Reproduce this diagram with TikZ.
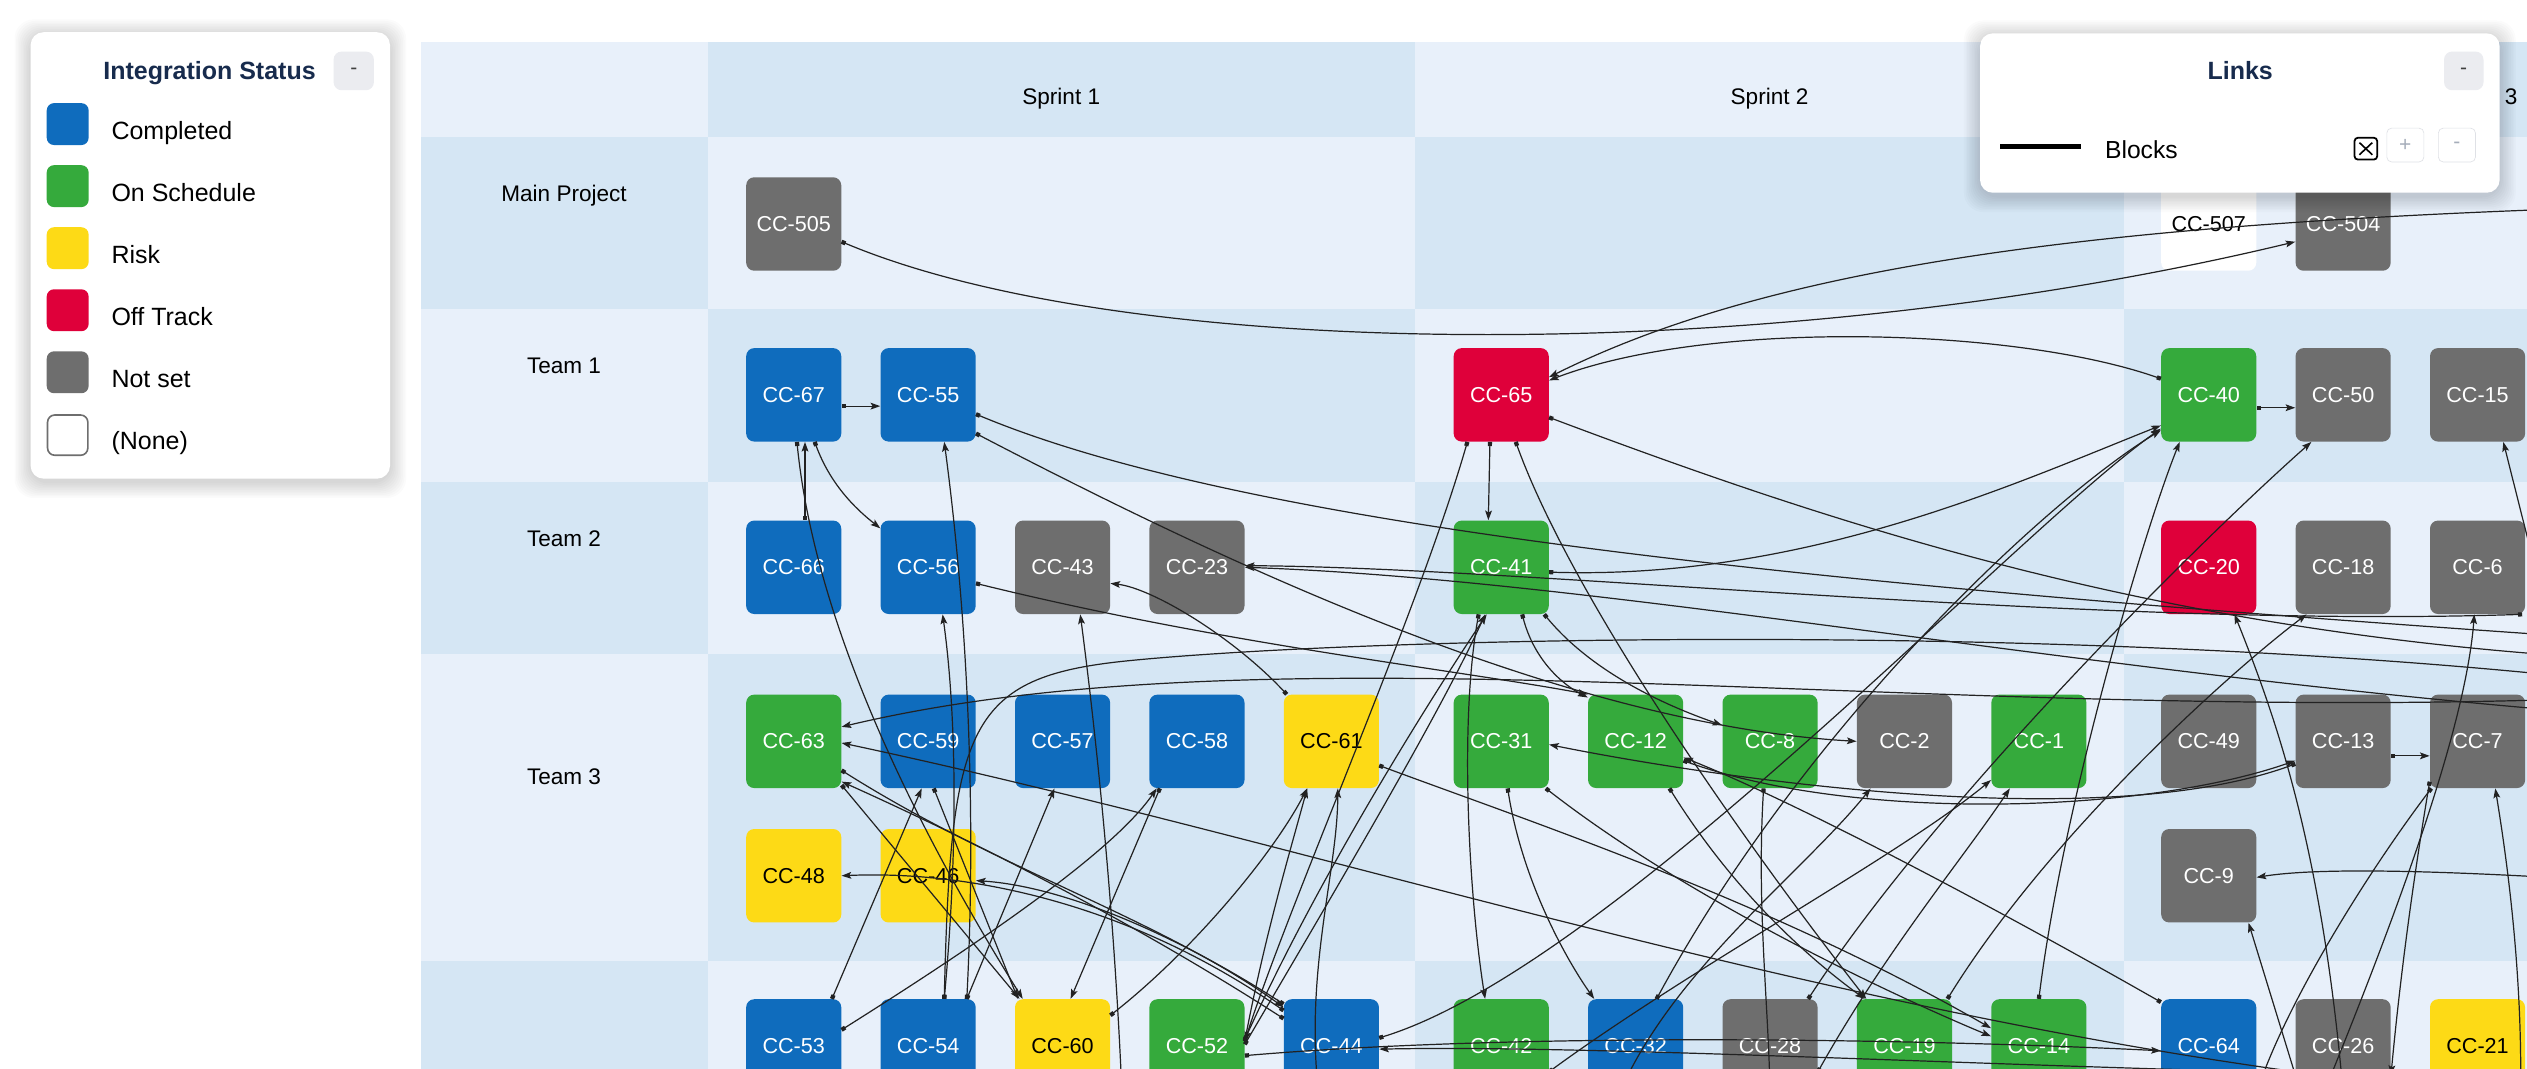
\documentclass[tikz,border=0pt]{standalone}
\usepackage{fontspec}
\setmainfont{Liberation Sans}
\usetikzlibrary{arrows.meta,positioning}

\definecolor{cellA}{HTML}{E8F0FA}
\definecolor{cellB}{HTML}{D5E6F4}
\definecolor{doneblue}{HTML}{0F6CBD}
\definecolor{ongreen}{HTML}{35AA3C}
\definecolor{riskyellow}{HTML}{FDDA16}
\definecolor{offred}{HTML}{DF003A}
\definecolor{notgrey}{HTML}{6E6E6E}
\definecolor{navy}{HTML}{172B4D}
\definecolor{btngrey}{HTML}{EBECF0}
\definecolor{btnline}{HTML}{DFE1E6}
\definecolor{btntext}{HTML}{A5ADBA}
\definecolor{linkgrey}{HTML}{222222}

\begin{document}
\begin{tikzpicture}[
  x=1pt, y=-1pt,
  node distance=25pt and 24pt,
  issue/.style={rectangle, rounded corners=5pt, minimum width=59pt, minimum height=58pt, inner sep=0pt, text=white, font=\fontsize{13.4}{16}\selectfont},
  done/.style={issue, fill=doneblue},
  ontrack/.style={issue, fill=ongreen},
  risk/.style={issue, fill=riskyellow, text=black},
  offtrack/.style={issue, fill=offred},
  notset/.style={issue, fill=notgrey},
  nostatus/.style={issue, fill=white, text=black},
  gridlabel/.style={anchor=base, font=\fontsize{14}{16}\selectfont},
  legtext/.style={anchor=base west, inner sep=0pt, font=\fontsize{15.5}{18}\selectfont},
  paneltitle/.style={anchor=base, inner sep=0pt, text=navy, font=\fontsize{15.5}{18}\selectfont\bfseries},
  panel/.style={fill=white, rounded corners=8pt},
  haze/.style={fill=black, opacity=0.014, rounded corners=12pt},
  link/.style={draw=linkgrey, line width=0.75pt, {Square[length=2.6pt,width=2.6pt]}-{Stealth[length=6pt,width=4.2pt,inset=1.2pt]}}
]
\useasboundingbox (0,0) rectangle (1568,663);
\fill[white] (0,0) rectangle (1568,663);
\clip (0,0) rectangle (1568,663);

\foreach \ya/\yb [count=\i] in {26/85,85/192,192/299,299/406,406/596,596/700}
  \foreach \xa/\xb [count=\j] in {261/439,439/878,878/1318,1318/1760}{
    \pgfmathtruncatemacro\k{\i+\j}
    \ifodd\k \fill[cellB] (\xa,\ya) rectangle (\xb,\yb); \else \fill[cellA] (\xa,\ya) rectangle (\xb,\yb); \fi
  }

\node[gridlabel] (s1) at (658.5,65) {Sprint 1};
\node[gridlabel] (s2) at (1098,65) {Sprint 2};
\node[gridlabel] (s3) at (1538,65) {Sprint 3};
\node[gridlabel] (mainrow) at (350,125) {Main Project};
\node[gridlabel] (team1) at (350,232) {Team 1};
\node[gridlabel] (team2) at (350,339) {Team 2};
\node[gridlabel] (team3) at (350,487) {Team 3};

\node[notset] (c505) at (492.5,139) {CC-505};
\node[nostatus] (c507) at (1370.5,139) {CC-507};
\node[notset, right=of c507] (c504) {CC-504};

\node[done] (c67) at (492.5,245) {CC-67};
\node[done, right=of c67] (c55) {CC-55};
\node[offtrack] (c65) at (931.5,245) {CC-65};
\node[ontrack] (c40) at (1370.5,245) {CC-40};
\node[notset, right=of c40] (c50) {CC-50};
\node[notset, right=of c50] (c15) {CC-15};

\node[done] (c66) at (492.5,352) {CC-66};
\node[done, right=of c66] (c56) {CC-56};
\node[notset, right=of c56] (c43) {CC-43};
\node[notset, right=of c43] (c23) {CC-23};
\node[ontrack] (c41) at (931.5,352) {CC-41};
\node[offtrack] (c20) at (1370.5,352) {CC-20};
\node[notset, right=of c20] (c18) {CC-18};
\node[notset, right=of c18] (c6) {CC-6};

\node[ontrack] (c63) at (492.5,460) {CC-63};
\node[done, right=of c63] (c59) {CC-59};
\node[done, right=of c59] (c57) {CC-57};
\node[done, right=of c57] (c58) {CC-58};
\node[risk, right=of c58] (c61) {CC-61};
\node[ontrack] (c31) at (931.5,460) {CC-31};
\node[ontrack, right=of c31] (c12) {CC-12};
\node[ontrack, right=of c12] (c8) {CC-8};
\node[notset, right=of c8] (c2) {CC-2};
\node[ontrack, right=of c2] (c1) {CC-1};
\node[notset] (c49) at (1370.5,460) {CC-49};
\node[notset, right=of c49] (c13) {CC-13};
\node[notset, right=of c13] (c7) {CC-7};
\node[risk, below=of c63] (c48) {CC-48};
\node[risk, right=of c48] (c46) {CC-46};
\node[notset, below=of c49] (c9) {CC-9};

\node[done] (c53) at (492.5,649) {CC-53};
\node[done, right=of c53] (c54) {CC-54};
\node[risk, right=of c54] (c60) {CC-60};
\node[ontrack, right=of c60] (c52) {CC-52};
\node[done, right=of c52] (c44) {CC-44};
\node[ontrack] (c42) at (931.5,649) {CC-42};
\node[done, right=of c42] (c32) {CC-32};
\node[notset, right=of c32] (c28) {CC-28};
\node[ontrack, right=of c28] (c19) {CC-19};
\node[ontrack, right=of c19] (c14) {CC-14};
\node[done] (c64) at (1370.5,649) {CC-64};
\node[notset, right=of c64] (c26) {CC-26};
\node[risk, right=of c26] (c21) {CC-21};

\coordinate (out1) at (1640,128);
\coordinate (out2) at (1640,410);
\coordinate (out3) at (1640,398);
\coordinate (out4) at (1640,445);
\coordinate (out5) at (1640,432);
\coordinate (out6) at (1640,425);
\coordinate (out7) at (1590,420);
\coordinate (out8) at (1640,548);
\coordinate (below1) at (697,700);

\draw[link] ([yshift=-11pt]c505.east) .. controls (700,225) and (1100,228) .. ([yshift=-11pt]c504.west);
\draw[link] (out1) .. controls (1300,138) and (1100,165) .. ([yshift=11pt]c65.east);
\draw[link] ([yshift=10pt]c40.west) .. controls (1250,203) and (1060,198) .. ([yshift=9pt]c65.east);
\draw[link] ([yshift=-14pt]c65.east) .. controls (1150,330) and (1350,395) .. (out2);
\draw[link] ([xshift=-7pt]c65.south) -- ([xshift=-8pt]c41.north);
\draw[link] ([xshift=-21pt]c65.south) .. controls (880,380) and (800,560) .. ([yshift=3pt]c52.east);
\draw[link] ([xshift=9pt]c65.south) .. controls (975,370) and (1080,520) .. ([xshift=6pt]c19.north west);

\draw[link] ([yshift=-7pt]c67.east) -- ([yshift=-7pt]c55.west);
\draw[link] ([xshift=7pt]c66.north) -- ([xshift=7pt]c67.south);
\draw[link] ([xshift=2pt]c67.south) .. controls (505,380) and (560,500) .. ([xshift=5pt]c60.north west);
\draw[link] ([xshift=13pt]c67.south) .. controls (515,300) and (530,315) .. ([yshift=-5pt]c56.north west);
\draw[link] ([yshift=-12pt]c55.east) .. controls (780,330) and (1150,365) .. (out3);
\draw[link] ([yshift=-24pt]c55.east) .. controls (780,360) and (980,450) .. (c2.west);
\draw[link] ([yshift=-10pt]c56.east) .. controls (760,400) and (900,415) .. (c12.north west);
\draw[link] ([xshift=-2pt]c6.south east) .. controls (1300,390) and (950,352) .. ([yshift=1pt]c23.east);
\draw[link] (out4) .. controls (1300,420) and (1000,360) .. (c23.east);
\draw[link] ([xshift=2pt]c61.north west) .. controls (765,395) and (715,365) .. ([yshift=-10pt]c43.east);
\draw[link] (below1) .. controls (692,560) and (678,440) .. ([xshift=11pt]c43.south);

\draw[link] ([xshift=13pt]c41.south) .. controls (952,410) and (970,425) .. ([yshift=-2pt]c12.north west);
\draw[link] ([xshift=-3pt]c41.south east) .. controls (990,420) and (1040,440) .. ([yshift=10pt]c8.west);
\draw[link] ([yshift=-3pt]c41.east) .. controls (1120,360) and (1250,300) .. ([yshift=-19pt]c40.west);
\draw[link] ([xshift=-14pt]c41.south) .. controls (905,450) and (912,560) .. ([xshift=-10pt]c42.north);
\draw[link] ([yshift=-8pt]c40.east) -- ([yshift=-8pt]c50.west);

\draw[link] (out5) .. controls (1200,452) and (800,385) .. ([yshift=9pt]c63.east);
\draw[link] ([yshift=-16pt]c26.west) .. controls (1100,620) and (800,520) .. ([yshift=-1pt]c63.east);
\draw[link] ([yshift=-18pt]c63.east) .. controls (620,540) and (720,570) .. ([yshift=24pt]c44.west);
\draw[link] ([yshift=17pt]c44.west) .. controls (700,570) and (600,520) .. ([yshift=-25pt]c63.east);
\draw[link] ([yshift=2pt]c63.south east) -- ([xshift=3pt]c60.north west);
\draw[link] ([yshift=22pt]c44.west) .. controls (700,560) and (600,540) .. (c48.east);
\draw[link] ([yshift=26pt]c44.west) .. controls (730,580) and (660,550) .. ([yshift=-3pt]c46.east);
\draw[link] ([xshift=3.5pt]c59.south) -- ([xshift=2pt]c60.north west);
\draw[link] ([xshift=-6pt]c53.north east) -- ([xshift=-4pt]c59.south);
\draw[link] ([xshift=24pt]c54.north) -- ([xshift=-5pt]c57.south);
\draw[link] ([yshift=10pt]c53.east) .. controls (600,590) and (690,530) .. ([xshift=-25pt]c58.south);
\draw[link] ([xshift=-23pt]c58.south) -- ([xshift=5pt]c60.north);
\draw[link] ([xshift=24pt]c54.north) .. controls (606,500) and (600,380) .. ([xshift=10pt]c55.south);
\draw[link] ([xshift=10pt]c54.north) .. controls (590,450) and (600,420) .. (700,410) .. controls (850,395) and (1300,385) .. (out6);
\draw[link] ([xshift=10pt]c54.north) .. controls (595,520) and (593,440) .. ([xshift=9pt]c56.south);
\draw[link] ([yshift=-15pt]c61.east) .. controls (950,510) and (1100,560) .. ([yshift=11pt]c14.west);
\draw[link] ([xshift=-8pt]c44.south) .. controls (810,600) and (830,540) .. ([xshift=4pt]c61.south);
\draw[link] ([yshift=19pt]c60.east) .. controls (740,590) and (790,530) .. ([xshift=-15pt]c61.south);
\draw[link] ([yshift=3pt]c52.east) .. controls (785,580) and (800,530) .. ([xshift=-15pt]c61.south);
\draw[link] ([yshift=4pt]c52.east) .. controls (820,540) and (890,430) .. ([xshift=-9pt]c41.south);
\draw[link] ([yshift=1pt]c52.east) .. controls (830,550) and (895,440) .. ([xshift=-10pt]c41.south);
\draw[link] ([yshift=5pt]c44.east) .. controls (1000,600) and (1250,330) .. ([yshift=-21pt]c40.west);
\draw[link] ([yshift=-6pt]c52.east) .. controls (950,640) and (1200,645) .. ([yshift=-3pt]c64.west);
\draw[link] ([yshift=-18pt]c21.west) .. controls (1300,665) and (1000,648) .. ([yshift=-2pt]c44.east);

\draw[link] ([yshift=-2pt]c64.north west) .. controls (1250,570) and (1120,500) .. ([yshift=-10pt]c12.east);
\draw[link] ([yshift=-12pt]c12.east) .. controls (1150,510) and (1330,505) .. ([yshift=-12pt]c13.west);
\draw[link] ([yshift=-14pt]c13.west) .. controls (1300,520) and (1050,480) .. ([yshift=-2pt]c31.east);
\draw[link] ([xshift=4pt]c31.south) .. controls (945,550) and (975,600) .. ([xshift=4pt]c32.north west);
\draw[link] ([xshift=-2pt]c31.south east) .. controls (1050,560) and (1180,620) .. ([yshift=6pt]c14.west);
\draw[link] ([xshift=21pt]c12.south) .. controls (1080,560) and (1130,600) .. ([xshift=5pt]c19.north west);
\draw[link] ([xshift=-4pt]c8.south) .. controls (1090,560) and (1097,620) .. (c28.south);
\draw[link] ([xshift=-10pt]c32.south) .. controls (1040,600) and (1120,540) .. ([xshift=-21pt]c2.south);
\draw[link] ([yshift=-16pt]c42.east) .. controls (1050,600) and (1180,530) .. ([yshift=-24pt]c1.west);
\draw[link] ([yshift=-16pt]c28.east) .. controls (1170,590) and (1220,530) .. ([xshift=-18pt]c1.south);
\draw[link] ([xshift=13pt]c32.north) .. controls (1120,450) and (1270,310) .. ([yshift=-22pt]c40.west);
\draw[link] (c14.north) .. controls (1280,500) and (1330,330) .. ([xshift=-18pt]c40.south);
\draw[link] ([xshift=-6pt]c28.north east) .. controls (1200,500) and (1360,340) .. ([xshift=10pt]c50.south west);
\draw[link] ([xshift=-3pt]c19.north east) .. controls (1270,520) and (1380,420) .. ([xshift=7pt]c18.south west);

\draw[link] (c26.south) .. controls (1440,520) and (1410,440) .. ([xshift=16pt]c20.south);
\draw[link] ([xshift=-12pt]c26.south) .. controls (1490,560) and (1530,450) .. ([xshift=-2pt]c6.south);
\draw[link] (out7) -- ([xshift=16pt]c15.south);
\draw[link] ([yshift=-9pt]c13.east) -- ([yshift=-9pt]c7.west);
\draw[link] (out8) .. controls (1520,540) and (1440,538) .. ([yshift=-1pt]c9.east);
\draw[link] ([yshift=-18pt]c26.west) -- ([xshift=-5pt]c9.south east);
\draw[link] ([xshift=-3pt]c21.south east) .. controls (1565,600) and (1555,530) .. ([xshift=11pt]c7.south);
\draw[link] ([xshift=1pt]c7.south west) .. controls (1470,540) and (1420,620) .. (c64.south east);
\draw[link] ([yshift=-25pt]c7.west) .. controls (1495,560) and (1488,620) .. ([yshift=-18pt]c26.east);

\foreach \s in {1,...,10}{
  \fill[haze] (19-\s,22-\s) rectangle (242+\s,299+\s);
  \fill[haze] (1228.6-\s,22.7-\s) rectangle (1551+\s,121.6+\s);
}

\fill[panel] (19,20) rectangle (242,297);
\node[paneltitle] (legtitle) at (130,49.5) {Integration Status};
\fill[btngrey, rounded corners=5pt] (207,32) rectangle (232,56);
\node[font=\fontsize{13}{15}\selectfont, text=black!75] (legbtn) at (219.5,44) {-};
\foreach \col/\txt [count=\k from 0] in {doneblue/Completed, ongreen/On Schedule, riskyellow/Risk, offred/Off Track, notgrey/Not set}{
  \fill[\col, rounded corners=4.5pt] (29,64+38.5*\k) rectangle (55,90+38.5*\k);
  \node[legtext] (leg\k) at (69,86.5+38.5*\k) {\txt};
}
\draw[notgrey, line width=1pt, rounded corners=4.5pt] (29.5,257.5) rectangle (54.5,282.5);
\node[legtext] (leg5) at (69,279) {(None)};

\fill[panel] (1228.6,20.7) rectangle (1551,119.6);
\node[paneltitle] (linktitle) at (1390,49.5) {Links};
\fill[btngrey, rounded corners=5pt] (1516.5,32) rectangle (1541,56);
\node[font=\fontsize{13}{15}\selectfont, text=black!75] (linkbtn) at (1528.7,44) {-};
\draw[black, line width=3pt] (1241,91) -- (1291,91);
\node[legtext, font=\fontsize{15.3}{18}\selectfont] (blocks) at (1306,98.5) {Blocks};
\draw[black, line width=1.1pt, rounded corners=2pt] (1461,85.5) rectangle (1475,99);
\draw[black, line width=1pt] (1464,88.5) -- (1472,96) (1464,96) -- (1472,88.5);
\draw[btnline, fill=white, rounded corners=3pt] (1481,79.5) rectangle (1504,100.5);
\node[text=btntext, font=\fontsize{13}{15}\selectfont] (plusbtn) at (1492.5,90) {+};
\draw[btnline, fill=white, rounded corners=3pt] (1513,79.5) rectangle (1536,100.5);
\node[text=btntext, font=\fontsize{13}{15}\selectfont] (minusbtn) at (1524.5,90) {-};
\end{tikzpicture}
\end{document}
